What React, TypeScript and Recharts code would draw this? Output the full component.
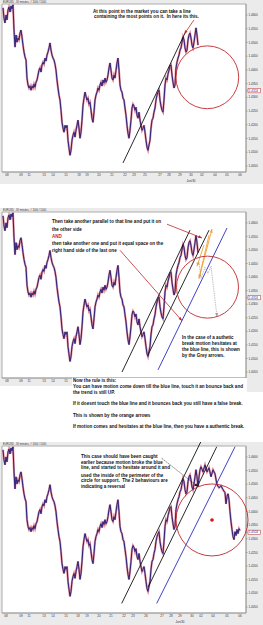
import React from 'react';
import { ComposedChart, Line, XAxis, YAxis, ReferenceLine, ReferenceDot, ReferenceArea, CartesianGrid } from 'recharts';

// EURUSD 30-minute closes (one bar per step, t = 1..196)
const closes: number[] = [
  1.4626, 1.4589, 1.4571, 1.4600, 1.4582, 1.4618, 1.4629, 1.4611, 1.4633, 1.4622,
  1.4637, 1.4545, 1.4483, 1.4527, 1.4501, 1.4516, 1.4509, 1.4534, 1.4545, 1.4520,
  1.4490, 1.4465, 1.4447, 1.4436, 1.4370, 1.4345, 1.4334, 1.4341, 1.4326, 1.4341,
  1.4334, 1.4348, 1.4337, 1.4355, 1.4363, 1.4381, 1.4399, 1.4407, 1.4392, 1.4418,
  1.4428, 1.4421, 1.4443, 1.4432, 1.4454, 1.4465, 1.4480, 1.4498, 1.4472, 1.4454,
  1.4443, 1.4436, 1.4421, 1.4399, 1.4363, 1.4334, 1.4308, 1.4290, 1.4253, 1.4209,
  1.4188, 1.4173, 1.4198, 1.4188, 1.4198, 1.4144, 1.4115, 1.4089, 1.4107, 1.4144,
  1.4162, 1.4173, 1.4155, 1.4180, 1.4198, 1.4217, 1.4188, 1.4151, 1.4173, 1.4217,
  1.4271, 1.4297, 1.4319, 1.4304, 1.4290, 1.4297, 1.4275, 1.4282, 1.4253, 1.4224,
  1.4209, 1.4246, 1.4290, 1.4308, 1.4319, 1.4334, 1.4326, 1.4345, 1.4355, 1.4341,
  1.4363, 1.4352, 1.4370, 1.4355, 1.4363, 1.4381, 1.4407, 1.4425, 1.4399, 1.4370,
  1.4363, 1.4381, 1.4370, 1.4399, 1.4425, 1.4443, 1.4399, 1.4345, 1.4326, 1.4319,
  1.4297, 1.4290, 1.4261, 1.4235, 1.4198, 1.4169, 1.4151, 1.4180, 1.4217, 1.4261,
  1.4275, 1.4268, 1.4253, 1.4264, 1.4235, 1.4224, 1.4246, 1.4217, 1.4198, 1.4180,
  1.4188, 1.4198, 1.4173, 1.4144, 1.4118, 1.4107, 1.4126, 1.4144, 1.4188, 1.4217,
  1.4224, 1.4246, 1.4261, 1.4290, 1.4308, 1.4319, 1.4326, 1.4290, 1.4268, 1.4253,
  1.4246, 1.4290, 1.4345, 1.4370, 1.4363, 1.4385, 1.4399, 1.4414, 1.4418, 1.4381,
  1.4355, 1.4334, 1.4345, 1.4407, 1.4428, 1.4443, 1.4454, 1.4472, 1.4480, 1.4501,
  1.4520, 1.4509, 1.4480, 1.4465, 1.4472, 1.4509, 1.4527, 1.4534, 1.4516, 1.4490,
  1.4480, 1.4501, 1.4527, 1.4553, 1.4527, 1.4490,
];

// continuation shown only in the third chart
const extTimes: number[] = [197, 198, 199, 201, 203, 205, 207, 209, 211, 213, 215, 217, 219, 221, 223, 224, 225, 226, 227, 228, 229, 230, 231, 232, 233, 234, 235, 236, 237, 238];
const extCloses: number[] = [1.4527, 1.4553, 1.4564, 1.4545, 1.4571, 1.4545, 1.4560, 1.4527, 1.4553, 1.4538, 1.4498, 1.4487, 1.4494, 1.4480, 1.4469, 1.4428, 1.4454, 1.4465, 1.4443, 1.4399, 1.4363, 1.4334, 1.4308, 1.4297, 1.4326, 1.4312, 1.4334, 1.4319, 1.4337, 1.4330];

const tickTimes1: number[] = [5, 19, 27, 42, 51, 64, 77, 85, 97, 110, 123, 132, 143, 158, 167, 178, 189, 200, 213, 225, 238];
const tickLabels1: string[] = ['08', '09', '11', '13', '14', '15', '18', '19', '20', '21', '22', '23', '25', '27', '28', '29', '30', '02', '04', '05', '06'];
const tickTimes3: number[] = [4, 19, 27, 42, 51, 64, 76, 85, 97, 109, 122, 131, 144, 160, 169, 178, 190, 199, 211, 225, 238];
const tickLabels3: string[] = ['08', '09', '11', '13', '14', '15', '18', '19', '20', '21', '22', '23', '26', '27', '28', '29', '30', '02', '04', '05', '06'];
const monthLabel = 'Jun/30';

const lastQuote = 1.4324;
const yTicks: number[] = [1.405, 1.41, 1.415, 1.42, 1.425, 1.43, lastQuote, 1.435, 1.44, 1.445, 1.45, 1.455, 1.46];
const yDomain: [number, number] = [1.4028, 1.464];
const xDomain: [number, number] = [0, 244];

type Pt = [number, number];
// chart 1 annotations
const trend1: Pt[] = [[121, 1.4061], [183, 1.4534]];
const arrow1: Pt[] = [[192, 1.4582], [182.3, 1.4531]];
const circle1: Pt = [205.3, 1.4373];
// chart 2 annotations
const lineA2: Pt[] = [[120, 1.4050], [188, 1.4573]];
const lineB2: Pt[] = [[146, 1.4113], [207, 1.4573]];
const lineC2: Pt[] = [[156, 1.4058], [225, 1.4581]];
const redArrowA2: Pt[] = [[165, 1.4595], [200, 1.4544]];
const redArrowB2: Pt[] = [[118, 1.4499], [180, 1.4239]];
const orangeDown1: Pt[] = [[207, 1.4555], [197, 1.4395]];
const orangeUp: Pt[] = [[197, 1.4395], [210, 1.4577]];
const orangeDown2: Pt[] = [[202, 1.4518], [195, 1.4440]];
const greyPath: Pt[] = [[197, 1.4455], [199, 1.4395], [203, 1.4436], [206, 1.4414], [209, 1.4440], [215, 1.4254]];
const circle2: Pt = [205.5, 1.4363];
// chart 3 annotations
const lineA3: Pt[] = [[119.7, 1.4063], [199.7, 1.4662]];
const lineB3: Pt[] = [[146.3, 1.4124], [214.7, 1.4637]];
const lineC3: Pt[] = [[154.7, 1.4063], [233, 1.4637]];
const dashArrow3: Pt[] = [[159.7, 1.4595], [196, 1.4491]];
const circle3: Pt = [210, 1.4369];

const FONT = "'Liberation Sans', Arial, sans-serif";
const RED = '#c0282d';
const BLUE = '#2b2bbf';
const ORANGE = '#f0a030';
const GREY = '#9a9a9a';

const baseData = closes.map((c, i) => ({ t: i + 1, close: c }));
const fullData = baseData.concat(extTimes.map((t, i) => ({ t, close: extCloses[i] })));

const arrowShape = (color: string, width: number, dash?: string, head = true) => (p: any) => {
  const { x1, y1, x2, y2 } = p;
  const ang = Math.atan2(y2 - y1, x2 - x1);
  const L = 3.6;
  const W = 1.5;
  const bx = x2 - L * Math.cos(ang);
  const by = y2 - L * Math.sin(ang);
  const pts = `${x2},${y2} ${bx + W * Math.sin(ang)},${by - W * Math.cos(ang)} ${bx - W * Math.sin(ang)},${by + W * Math.cos(ang)}`;
  return (
    <g>
      <line x1={x1} y1={y1} x2={x2} y2={y2} stroke={color} strokeWidth={width} strokeDasharray={dash} />
      {head && <polygon points={pts} fill={color} />}
    </g>
  );
};

const seg = (s: Pt[], key: string, stroke: string, width: number, shape?: any) => (
  <ReferenceLine
    key={key}
    segment={[{ x: s[0][0], y: s[0][1] }, { x: s[1][0], y: s[1][1] }]}
    stroke={stroke}
    strokeWidth={width}
    ifOverflow="visible"
    shape={shape}
  />
);

const YTick = (p: any) => {
  const { x, y, payload } = p;
  const v = payload.value as number;
  if (Math.abs(v - lastQuote) < 1e-7) {
    return (
      <g>
        <rect x={x - 0.5} y={y - 2.1} width={12.5} height={4.2} fill="#fff" stroke={RED} strokeWidth={0.5} />
        <text x={x + 0.3} y={y + 1.1} fontSize={3} fontFamily={FONT} fill="#3a2a9a">{v.toFixed(4)}</text>
      </g>
    );
  }
  return <text x={x} y={y + 1.1} fontSize={3} fontFamily={FONT} fill="#333">{v.toFixed(4)}</text>;
};

const makeXTick = (times: number[], labels: string[], subIdx: number, maxX: number) => (p: any) => {
  const i = times.indexOf(p.payload.value);
  if (p.x > maxX) return <g />;
  return (
    <g>
      <text x={p.x} y={p.y + 4.4} textAnchor="middle" fontSize={3} fontFamily={FONT} fill="#333">{labels[i]}</text>
      {i === subIdx && (
        <text x={p.x} y={p.y + 9.8} textAnchor="middle" fontSize={3} fontFamily={FONT} fill="#333">{monthLabel}</text>
      )}
    </g>
  );
};

function PriceChart(props: {
  top: number; panelH: number; plotH: number; data: any[];
  times: number[]; labels: string[]; subIdx: number; maxLabelX?: number; children?: any;
}) {
  const { top, panelH, plotH, data, times, labels, subIdx, children } = props;
  const maxLabelX = props.maxLabelX ?? 999;
  const xH = panelH - 4 - plotH;
  return (
    <div style={{ position: 'absolute', left: 0, top, width: 263, height: panelH, background: '#ebebeb' }}>
      <ComposedChart width={263} height={panelH} data={data} margin={{ top: 4, right: 0, bottom: 0, left: 2 }}>
        <CartesianGrid horizontal={false} vertical={false} fill="#ffffff" />
        <XAxis
          dataKey="t" type="number" domain={xDomain} allowDataOverflow ticks={times} interval={0}
          height={xH} tickSize={0} tickMargin={0}
          axisLine={{ stroke: '#9a9a9a', strokeWidth: 0.8 }}
          tick={makeXTick(times, labels, subIdx, maxLabelX)}
        />
        <YAxis
          orientation="right" type="number" domain={yDomain} allowDataOverflow ticks={yTicks} interval={0}
          width={17} tickSize={1.5} tickMargin={1}
          axisLine={{ stroke: '#9a9a9a', strokeWidth: 0.8 }}
          tickLine={{ stroke: '#666', strokeWidth: 0.5 }}
          tick={YTick}
        />
        <ReferenceArea x1={xDomain[0]} x2={xDomain[1]} y1={yDomain[0]} y2={yDomain[1]} fill="none" stroke="#9a9a9a" strokeWidth={0.8} ifOverflow="visible" />
        <Line dataKey="close" name="range" stroke="#e08595" strokeWidth={2.1} dot={false} activeDot={false} isAnimationActive={false} />
        <Line dataKey="close" name="close" stroke="#2a2478" strokeWidth={1} dot={false} activeDot={false} isAnimationActive={false} />
        {children}
      </ComposedChart>
    </div>
  );
}

const T = (x: number, y: number, s: string, color = '#111', size = 4.55, weight = 700) => (
  <text key={`${x}-${y}`} x={x} y={y} fontSize={size} fontWeight={weight} fontFamily={FONT} fill={color}>{s}</text>
);

export default function App() {
  const greySegs = greyPath.slice(1).map((pt, i) =>
    seg([greyPath[i], pt], `g${i}`, GREY, 0.7, arrowShape(GREY, 0.7, '1 0.8', i === greyPath.length - 2))
  );
  return (
    <div style={{ position: 'absolute', left: 0, top: 0, width: 263, height: 625, background: '#fff', overflow: 'hidden' }}>
      <PriceChart top={0} panelH={184} plotH={168} data={baseData} times={tickTimes1} labels={tickLabels1} subIdx={16}>
        {seg(trend1, 't1', '#111', 0.9)}
        <ReferenceDot x={circle1[0]} y={circle1[1]} r={31.4} fill="none" stroke={RED} strokeWidth={0.9} ifOverflow="visible" />
        {seg(arrow1, 'a1', RED, 0.8, arrowShape(RED, 0.8))}
      </PriceChart>

      <PriceChart top={208} panelH={184} plotH={166} data={baseData} times={tickTimes1} labels={tickLabels1} subIdx={16} maxLabelX={70}>
        {seg(lineA2, 'la2', '#111', 0.9)}
        {seg(lineB2, 'lb2', '#111', 0.9)}
        {seg(lineC2, 'lc2', BLUE, 0.9)}
        <ReferenceDot x={circle2[0]} y={circle2[1]} r={31} fill="none" stroke={RED} strokeWidth={0.9} ifOverflow="visible" />
        {seg(redArrowA2, 'ra2', RED, 0.8, arrowShape(RED, 0.8))}
        {seg(redArrowB2, 'rb2', RED, 0.8, arrowShape(RED, 0.8))}
        {seg(orangeDown1, 'o1', ORANGE, 0.9, arrowShape(ORANGE, 0.9))}
        {seg(orangeUp, 'o2', ORANGE, 0.9, arrowShape(ORANGE, 0.9))}
        {seg(orangeDown2, 'o3', ORANGE, 0.9, arrowShape(ORANGE, 0.9))}
        {greySegs}
      </PriceChart>

      <PriceChart top={442} panelH={183} plotH={167} data={fullData} times={tickTimes3} labels={tickLabels3} subIdx={15}>
        {seg(lineA3, 'la3', '#111', 0.9)}
        {seg(lineB3, 'lb3', '#111', 0.9)}
        {seg(lineC3, 'lc3', BLUE, 0.9)}
        <ReferenceDot x={circle3[0]} y={circle3[1]} r={36} fill="none" stroke={RED} strokeWidth={0.9} ifOverflow="visible" />
        <ReferenceDot x={circle3[0]} y={circle3[1]} r={1.8} fill="#e01010" stroke="none" ifOverflow="visible" />
        {seg(dashArrow3, 'd3', '#111', 0.6, arrowShape('#111', 0.6, '1.5 1'))}
      </PriceChart>

      <svg width={263} height={625} style={{ position: 'absolute', left: 0, top: 0, pointerEvents: 'none' }}>
        <rect x={72} y={378} width={175} height={64} fill="#fff" />
        <rect x={0} y={386} width={72} height={6} fill="#fff" />
        {T(3, 3.2, 'EURUSD , 30 minutes, # 1000 / 1000', '#333', 2.6, 400)}
        {T(3, 211.4, 'EURUSD , 30 minutes, # 1000 / 1000', '#333', 2.6, 400)}
        {T(3, 445.4, 'EURUSD , 30 minutes, # 1000 / 1000', '#333', 2.6, 400)}

        {T(93, 13.3, 'At this point in the market you can take a line')}
        {T(94, 18.2, 'containing the most points on it.\u00a0 In here its this.')}

        {T(52, 223.2, 'Then take another parallel to that line and put it on')}
        {T(52, 230.5, 'the other side')}
        {T(52, 237.5, 'AND', '#d02020')}
        {T(52, 244.8, 'then take another one and put it equal space on the')}
        {T(52, 251.5, 'right hand side of the last one')}
        {T(182, 339.2, 'In the case of a authetic')}
        {T(182, 345.0, 'break motion hesitates at')}
        {T(182, 350.8, 'the blue line, this is shown')}
        {T(182, 356.6, 'by the Grey arrows.')}

        {T(73, 382.2, 'Now the rule is this:')}
        {T(73, 388.3, 'You can have motion come down till the blue line, touch it an bounce back and')}
        {T(73, 393.6, 'the trend is still UP.')}
        {T(73, 404.8, 'If it doesnt touch the blue line and it bounces back you still have a false break.')}
        {T(73, 416.5, 'This is shown by the orange arrows')}
        {T(73, 428.2, 'If motion comes and hesitates at the blue line, then you have a authentic break.')}

        {T(81, 458.2, 'This case should have been caught')}
        {T(81, 463.8, 'earlier because motion broke the blue')}
        {T(81, 469.3, 'line, and started to hesitate around it and')}
        {T(81, 476.5, 'used the inside of the perimeter of the')}
        {T(81, 482.2, 'circle for support.\u00a0 The 2 behaviours are')}
        {T(81, 487.5, 'indicating a reversal')}
      </svg>
    </div>
  );
}
